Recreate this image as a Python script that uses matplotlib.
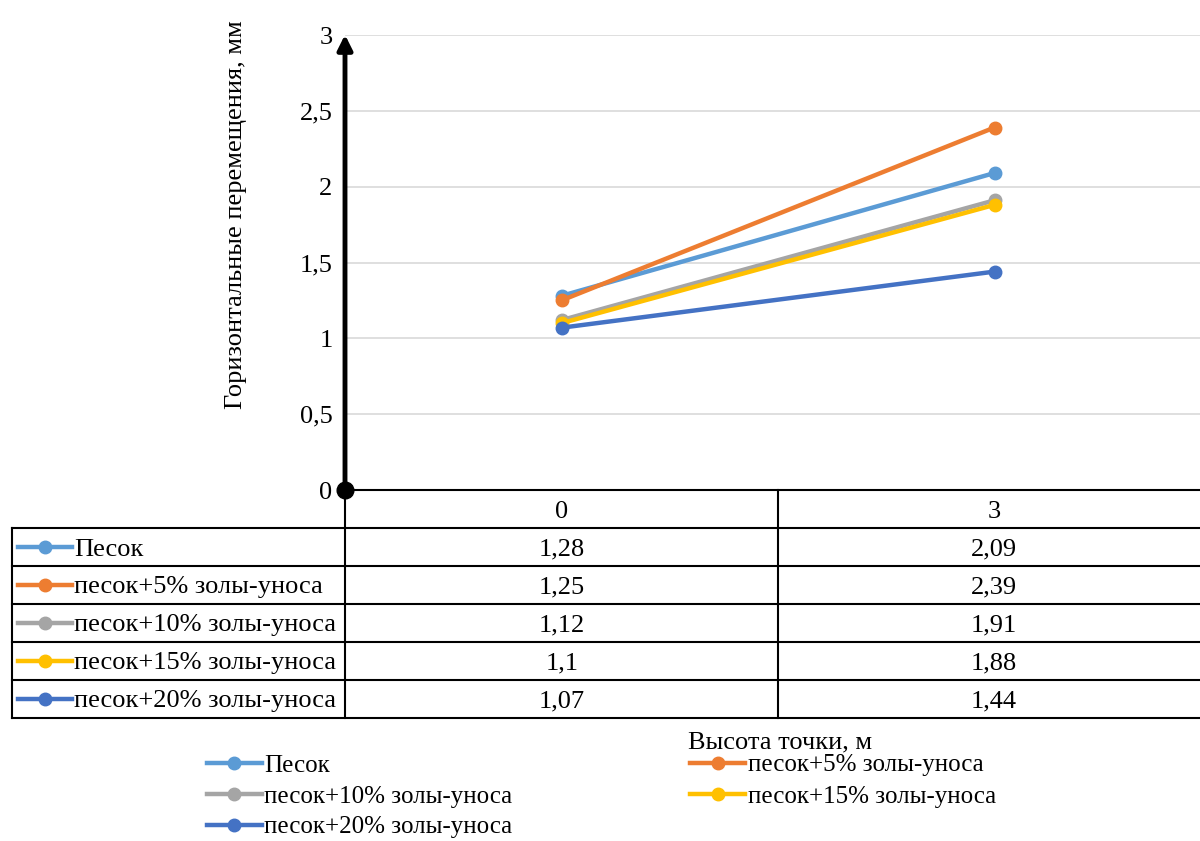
import matplotlib.pyplot as plt
from matplotlib.lines import Line2D

plt.rcParams['font.family'] = ['Liberation Serif', 'DejaVu Serif']

# данные
heights = ['0', '3']
series = ['Песок', 'песок+5% золы-уноса', 'песок+10% золы-уноса',
          'песок+15% золы-уноса', 'песок+20% золы-уноса']
values = [[1.28, 2.09],
          [1.25, 2.39],
          [1.12, 1.91],
          [1.10, 1.88],
          [1.07, 1.44]]
colors = ['#5B9BD5', '#ED7D31', '#A5A5A5', '#FFC000', '#4472C4']
yticks = [0, 0.5, 1, 1.5, 2, 2.5, 3]

FS = 19
W, H = 1200, 841
def fx(x): return x / W
def fy(y): return 1 - y / H

fig = plt.figure(figsize=(12, 8.41), dpi=100)
ax = fig.add_axes([fx(345), fy(490), fx(1211 - 345), (490 - 35) / H])

xs = list(range(len(heights)))
for name, vals, c in zip(series, values, colors):
    ax.plot(xs, vals, color=c, lw=3.2, marker='o', ms=9, label=name, zorder=3)

ax.set_xlim(-0.5, 1.5)
ax.set_ylim(0, 3)
ax.set_yticks(yticks)
ax.set_yticklabels([f'{t:g}'.replace('.', ',') for t in yticks], fontsize=FS)
ax.set_xticks([])
ax.tick_params(axis='y', length=0, pad=9)
ax.grid(axis='y', color='#D9D9D9', lw=1.2)
for s in ['top', 'right', 'left']:
    ax.spines[s].set_visible(False)
ax.spines['bottom'].set_linewidth(1.5)

# ось Y со стрелкой и точкой в начале координат
ax.annotate('', xy=(-0.5, 3.02), xytext=(-0.5, 0), xycoords='data',
            arrowprops=dict(arrowstyle='-|>', color='black', lw=3.5,
                            mutation_scale=22), annotation_clip=False)
ax.plot([-0.5], [0], 'o', color='black', ms=12, clip_on=False, zorder=5)

fig.text(fx(236), fy(215), 'Горизонтальные перемещения, мм', rotation=90,
         ha='center', va='center', fontsize=FS)

# таблица данных
tr = fig.transFigure
lw = 1.5
row_y = [528, 566, 604, 642, 680, 718]
for y in row_y:
    fig.add_artist(Line2D([fx(12), fx(1200)], [fy(y), fy(y)], color='black', lw=lw, transform=tr))
fig.add_artist(Line2D([fx(12), fx(12)], [fy(528), fy(718)], color='black', lw=lw, transform=tr))
for x in [345, 778]:
    fig.add_artist(Line2D([fx(x), fx(x)], [fy(490), fy(718)], color='black', lw=lw, transform=tr))

col_x = [562, 994]
for h, x in zip(heights, col_x):
    fig.text(fx(x), fy(509), h, ha='center', va='center_baseline', fontsize=FS)

for i, (name, vals, c) in enumerate(zip(series, values, colors)):
    yc = (row_y[i] + row_y[i + 1]) / 2
    fig.add_artist(Line2D([fx(18), fx(72)], [fy(yc), fy(yc)], color=c, lw=3.2, transform=tr))
    fig.add_artist(Line2D([fx(45)], [fy(yc)], color=c, marker='o', ms=9, transform=tr))
    fig.text(fx(74), fy(yc), name, ha='left', va='center_baseline', fontsize=FS)
    for v, x in zip(vals, col_x):
        fig.text(fx(x), fy(yc), f'{v:g}'.replace('.', ','), ha='center',
                 va='center_baseline', fontsize=FS)

fig.text(fx(780), fy(742), 'Высота точки, м', ha='center', va='center', fontsize=FS)

# легенда (порядок по строкам, как в Excel)
handles, labels = ax.get_legend_handles_labels()
order = [0, 2, 4, 1, 3]
fig.legend([handles[k] for k in order], [labels[k] for k in order],
           loc='upper left', bbox_to_anchor=(fx(207), fy(754)),
           ncol=2, frameon=False, fontsize=18, handlelength=2.2, handletextpad=0.1,
           columnspacing=7.1, labelspacing=0.34, borderaxespad=0, borderpad=0)

fig.savefig('out.png', dpi=100)
